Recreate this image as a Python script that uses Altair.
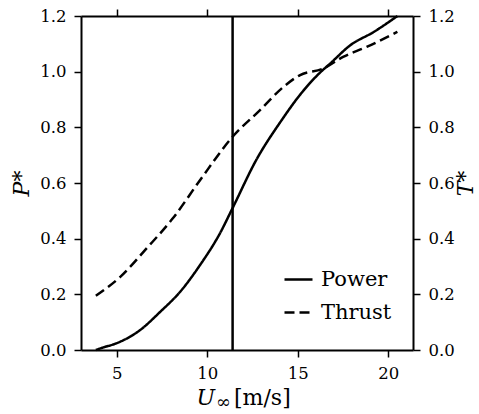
import altair as alt
import pandas as pd

# ---- data ----
power_wind = [3.85, 4.3, 4.9, 6.3, 7.4, 8.5, 9.6, 10.7, 11.4, 12.7, 14.1, 15.1, 16.2, 16.8, 17.9, 19.2, 20.5]
power_vals = [0.0, 0.01, 0.022, 0.072, 0.137, 0.209, 0.305, 0.419, 0.51, 0.682, 0.825, 0.915, 0.995, 1.03, 1.095, 1.143, 1.2]
thrust_wind = [3.85, 5.2, 6.65, 8.1, 9.6, 11.4, 12.9, 14.2, 15.1, 16.4, 17.5, 18.8, 20.5]
thrust_vals = [0.195, 0.263, 0.365, 0.473, 0.61, 0.766, 0.861, 0.945, 0.987, 1.011, 1.053, 1.089, 1.143]
rated_speed = [11.4]
series_names = ["Power", "Thrust"]
x_ticks = [5, 10, 15, 20]
y_ticks = [0.0, 0.2, 0.4, 0.6, 0.8, 1.0, 1.2]
x_title_parts = ["U", "\u221e", "[m/s]"]
left_title = "P*"
right_title = "T*"

FONT = "DejaVu Serif"
X_DOMAIN = [3.03, 21.36]
Y_DOMAIN = [0, 1.2]

df = pd.concat([
    pd.DataFrame({"wind": power_wind, "value": power_vals, "series": series_names[0]}),
    pd.DataFrame({"wind": thrust_wind, "value": thrust_vals, "series": series_names[1]}),
], ignore_index=True)

xscale = alt.Scale(domain=X_DOMAIN, nice=False, zero=False)
yscale = alt.Scale(domain=Y_DOMAIN, nice=False, zero=False)

lines = alt.Chart(df).mark_line(color="black", strokeWidth=2.5, interpolate="monotone").encode(
    x=alt.X("wind:Q", scale=xscale,
            axis=alt.Axis(orient="bottom", values=x_ticks, title=None, format="d")),
    y=alt.Y("value:Q", scale=yscale,
            axis=alt.Axis(orient="left", values=y_ticks, format=".1f", title=left_title,
                          titleFontStyle="italic", titleAngle=270, titleX=-53, titleY=167,
                          titleAlign="center", titleBaseline="alphabetic")),
    strokeDash=alt.StrokeDash(
        "series:N",
        scale=alt.Scale(domain=series_names, range=[[1, 0], [10, 5]]),
        legend=alt.Legend(title=None, orient="none", legendX=202, legendY=248,
                          symbolType="stroke", symbolSize=784, symbolStrokeWidth=2.5,
                          symbolStrokeColor="black", labelFontSize=21, labelFont=FONT,
                          labelColor="black", labelOffset=7, rowPadding=7),
    ),
)

rule = alt.Chart(pd.DataFrame({"rated": rated_speed})).mark_rule(
    color="black", strokeWidth=2.5
).encode(x=alt.X("rated:Q", scale=xscale, axis=None))

frame = alt.Chart(df).mark_point(opacity=0).encode(
    x=alt.X("wind:Q", scale=xscale,
            axis=alt.Axis(orient="top", values=x_ticks, labels=False, title=None)),
    y=alt.Y("value:Q", scale=yscale,
            axis=alt.Axis(orient="right", values=y_ticks, format=".1f", title=right_title,
                          titleFontStyle="italic", titleAngle=270, titleX=59, titleY=167,
                          titleAlign="center", titleBaseline="alphabetic")),
)

t_u = alt.Chart(pd.DataFrame({"t": [x_title_parts[0]]})).mark_text(
    font=FONT, fontSize=22, fontStyle="italic", align="right", baseline="alphabetic", color="black"
).encode(text="t:N", x=alt.value(134), y=alt.value(389))
t_inf = alt.Chart(pd.DataFrame({"t": [x_title_parts[1]]})).mark_text(
    font=FONT, fontSize=18, align="left", baseline="alphabetic", color="black"
).encode(text="t:N", x=alt.value(135), y=alt.value(392))
t_unit = alt.Chart(pd.DataFrame({"t": [x_title_parts[2]]})).mark_text(
    font=FONT, fontSize=22, align="left", baseline="alphabetic", color="black"
).encode(text="t:N", x=alt.value(153), y=alt.value(389))

chart = alt.layer(lines, rule, frame, t_u, t_inf, t_unit).resolve_scale(
    x="independent", y="independent"
).properties(
    width=332, height=334,
    autosize=alt.AutoSizeParams(type="none"),
    padding={"left": 81, "top": 16, "right": 66, "bottom": 64},
).configure_view(stroke=None).configure_axis(
    domainColor="black", domainWidth=2, tickColor="black", tickWidth=1.5, tickSize=7,
    labelColor="black", labelFont=FONT, labelFontSize=16.5, labelPadding=8,
    labelFlush=False, labelOverlap=False,
    titleColor="black", titleFont=FONT, titleFontSize=22, titleFontWeight="normal",
    grid=False,
)

chart.save("out.html", embed_options={"renderer": "svg", "actions": False})
